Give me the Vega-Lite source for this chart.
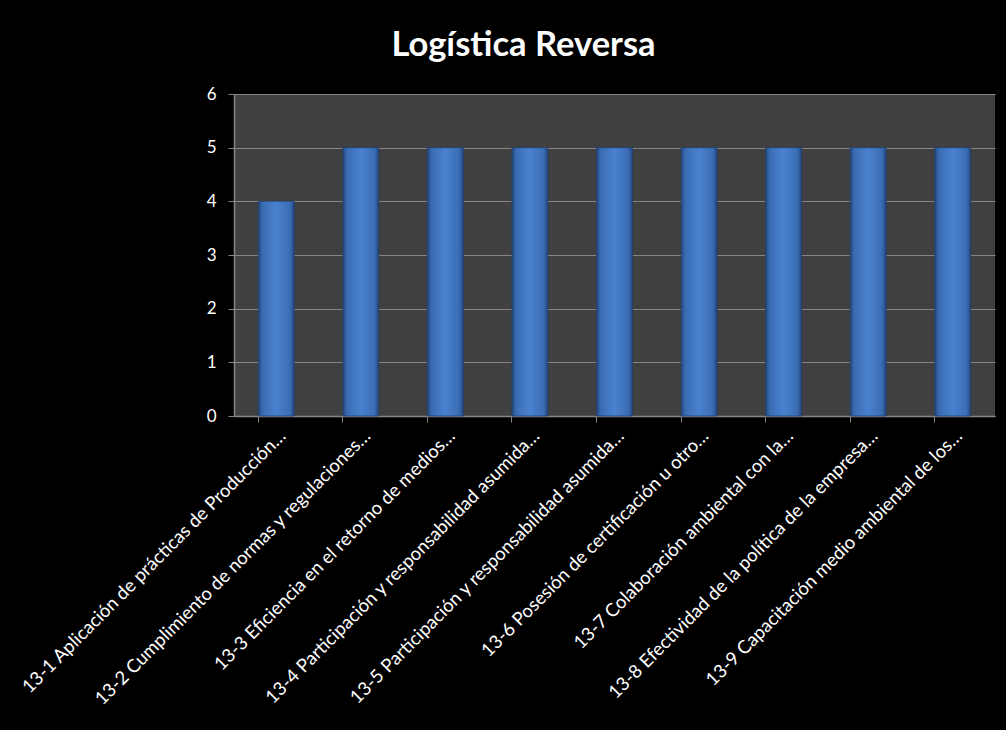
{
  "$schema": "https://vega.github.io/schema/vega-lite/v6.json",
  "width": 761,
  "height": 322,
  "autosize": {"type": "none"},
  "padding": {"left": 234, "top": 94, "right": 11, "bottom": 314},
  "background": "#000000",
  "title": {
    "text": "Logística Reversa",
    "font": "Lato",
    "fontSize": 34.5,
    "fontWeight": "bold",
    "color": "#ffffff",
    "anchor": "middle",
    "frame": "group",
    "dx": -91,
    "offset": 22
  },
  "data": {
    "values": [
      {"item": "13-1 Aplicación de prácticas de Producción…", "valor": 4},
      {"item": "13-2 Cumplimiento de normas y regulaciones…", "valor": 5},
      {"item": "13-3 Eficiencia en el retorno de medios…", "valor": 5},
      {"item": "13-4 Participación y responsabilidad asumida…", "valor": 5},
      {"item": "13-5 Participación y responsabilidad asumida…", "valor": 5},
      {"item": "13-6 Posesión de certificación u otro…", "valor": 5},
      {"item": "13-7 Colaboración ambiental con la…", "valor": 5},
      {"item": "13-8 Efectividad de la política de la empresa…", "valor": 5},
      {"item": "13-9 Capacitación medio ambiental de los…", "valor": 5}
    ]
  },
  "mark": {
    "type": "bar",
    "fill": {
      "gradient": "linear",
      "x1": 0, "x2": 1, "y1": 0, "y2": 0,
      "stops": [
        {"offset": 0, "color": "#23497f"},
        {"offset": 0.12, "color": "#3a6cb4"},
        {"offset": 0.5, "color": "#4a82cf"},
        {"offset": 0.88, "color": "#3a6cb4"},
        {"offset": 1, "color": "#23497f"}
      ]
    },
    "stroke": "#1f3f6e",
    "strokeWidth": 0.8
  },
  "encoding": {
    "x": {
      "field": "item",
      "type": "nominal",
      "sort": null,
      "title": null,
      "scale": {"paddingInner": 0.575, "paddingOuter": 0.2875},
      "axis": {
        "labelAngle": -45,
        "labelAlign": "right",
        "labelBaseline": "top",
        "labelFont": "Lato",
        "labelFontSize": 18.5,
        "labelColor": "#ffffff",
        "labelPadding": 4,
        "labelLimit": 0,
        "bandPosition": 0,
        "ticks": true,
        "tickSize": 6,
        "tickColor": "#868686",
        "domainColor": "#868686",
        "domainWidth": 1.5,
        "grid": false
      }
    },
    "y": {
      "field": "valor",
      "type": "quantitative",
      "title": null,
      "scale": {"domain": [0, 6], "nice": false},
      "axis": {
        "values": [0, 1, 2, 3, 4, 5, 6],
        "labelFont": "Lato",
        "labelFontSize": 17,
        "labelColor": "#ffffff",
        "labelPadding": 12,
        "tickSize": 6,
        "tickColor": "#868686",
        "domainColor": "#868686",
        "domainWidth": 1.5,
        "grid": true,
        "gridColor": "#868686",
        "gridWidth": 1.2
      }
    }
  },
  "config": {
    "view": {"fill": "#404040", "stroke": null}
  }
}
